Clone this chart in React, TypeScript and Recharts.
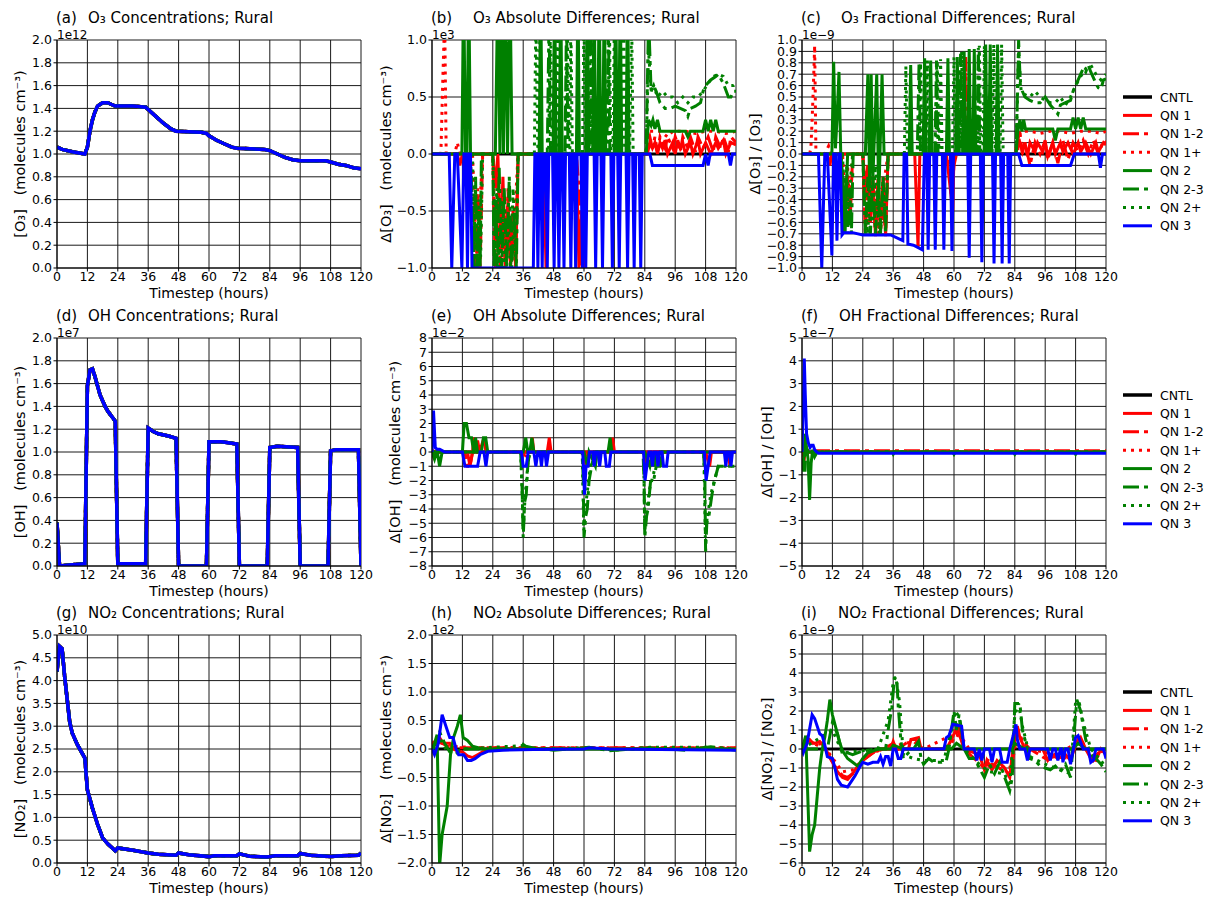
import { CartesianGrid, Line, LineChart, XAxis, YAxis } from 'recharts';

type Pt = [number, number];

const HOURS = [0, 12, 24, 36, 48, 60, 72, 84, 96, 108, 120];
const SERIES_NAMES = ['CNTL', 'QN 1', 'QN 1-2', 'QN 1+', 'QN 2', 'QN 2-3', 'QN 2+', 'QN 3'];
const SERIES_COLORS = ['#000000', '#ff0000', '#ff0000', '#ff0000', '#008000', '#008000', '#008000', '#0000ff'];
const SERIES_DASH = [undefined, undefined, '16 5 4 5', '3 5', undefined, '16 5 4 5', '3 5', undefined];

// y tick values
const CONC_TICKS_2 = [0, 0.2, 0.4, 0.6, 0.8, 1.0, 1.2, 1.4, 1.6, 1.8, 2.0];
const O3_ABS_TICKS = [-1, -0.5, 0, 0.5, 1];
const O3_FRAC_TICKS = [-1, -0.9, -0.8, -0.7, -0.6, -0.5, -0.4, -0.3, -0.2, -0.1, 0, 0.1, 0.2, 0.3, 0.4, 0.5, 0.6, 0.7, 0.8, 0.9, 1];
const OH_ABS_TICKS = [-8, -7, -6, -5, -4, -3, -2, -1, 0, 1, 2, 3, 4, 5, 6, 7, 8];
const OH_FRAC_TICKS = [-5, -4, -3, -2, -1, 0, 1, 2, 3, 4, 5];
const NO2_TICKS = [0, 0.5, 1.0, 1.5, 2.0, 2.5, 3.0, 3.5, 4.0, 4.5, 5.0];
const NO2_ABS_TICKS = [-2, -1.5, -1, -0.5, 0, 0.5, 1, 1.5, 2];
const NO2_FRAC_TICKS = [-6, -5, -4, -3, -2, -1, 0, 1, 2, 3, 4, 5, 6];

const ZERO: Pt[] = [[0, 0], [120, 0]];

// concentrations (all runs overlap)
const O3_CONC: Pt[] = [[0, 1.06], [2, 1.04], [6, 1.02], [11, 1.0], [12, 1.06], [13, 1.2], [14, 1.3], [15, 1.37], [16, 1.42], [18, 1.45], [20, 1.45], [22, 1.43], [23, 1.42], [30, 1.42], [35, 1.41], [36, 1.39], [39, 1.33], [42, 1.27], [45, 1.22], [47, 1.2], [57, 1.19], [59, 1.18], [60, 1.16], [63, 1.12], [66, 1.09], [69, 1.06], [71, 1.05], [82, 1.04], [84, 1.03], [87, 1.0], [90, 0.97], [93, 0.95], [96, 0.94], [106, 0.94], [108, 0.93], [111, 0.91], [114, 0.9], [117, 0.88], [120, 0.87]];
const OH_CONC: Pt[] = [[0, 0.38], [1, 0.0], [6, 0.01], [11, 0.02], [12, 1.58], [13, 1.72], [14, 1.73], [15, 1.66], [16, 1.58], [17, 1.5], [18, 1.45], [19, 1.4], [20, 1.36], [21, 1.33], [22, 1.3], [23, 1.27], [24, 0.02], [35, 0.02], [36, 1.21], [38, 1.18], [40, 1.16], [44, 1.14], [47, 1.12], [48, 0.0], [59, 0.0], [60, 1.09], [65, 1.09], [71, 1.07], [72, 0.0], [83, 0.0], [84, 1.04], [87, 1.05], [95, 1.04], [96, 0.0], [107, 0.0], [108, 1.01], [110, 1.02], [119, 1.02], [120, 0.0]];
const NO2_CONC: Pt[] = [[0, 4.2], [1, 4.75], [2, 4.7], [3, 4.1], [5, 3.1], [6, 2.85], [8, 2.6], [11, 2.3], [12, 1.6], [14, 1.2], [16, 0.85], [18, 0.55], [20, 0.42], [22, 0.32], [23, 0.27], [24, 0.33], [30, 0.28], [36, 0.22], [40, 0.19], [47, 0.17], [48, 0.22], [52, 0.18], [60, 0.14], [62, 0.16], [71, 0.16], [72, 0.2], [76, 0.15], [83, 0.13], [86, 0.16], [95, 0.16], [96, 0.21], [100, 0.17], [108, 0.14], [112, 0.16], [119, 0.17], [120, 0.22]];

// (b) O3 absolute differences, units of 1e3
const O3_ABS_QN1: Pt[] = [[0, 0], [10, 0], [11, -0.1], [12, 0], [24, 0], [25, -0.3], [26, 0], [27, -0.8], [28, -0.2], [29, -1], [30, -0.4], [31, -1], [32, -0.5], [33, -1], [34, 0], [44, 0], [45, -1], [46, 0], [57, 0], [58, -1], [59, -0.5], [60, -1], [61, 0], [85, 0], [86, 0.1], [87, 0.05], [88, 0.1], [89, 0], [90, 0.1], [91, 0.05], [92, 0.12], [93, 0], [95, 0.1], [96, 0], [97, 0.12], [98, 0.05], [99, 0.1], [100, 0], [102, 0.1], [103, 0], [105, 0.12], [106, 0], [108, 0.1], [110, 0], [112, 0.1], [113, 0.05], [115, 0.12], [116, 0], [118, 0.1], [120, 0.08]];
const O3_ABS_QN12: Pt[] = [[0, 0], [15, 0], [16, -0.5], [17, -1], [18, -0.3], [19, -1], [20, 0], [24, 0], [25, -1], [26, -0.2], [27, -1], [28, -0.6], [29, -1], [30, -0.3], [31, -1], [32, -0.7], [33, -1], [34, 0], [57, 0], [58, -0.3], [59, -1], [60, 0], [84, 0], [86, 0.15], [87, 0.05], [88, 0.15], [89, 0.02], [90, 0.15], [92, 0.05], [93, 0.15], [95, 0.05], [96, 0.15], [98, 0.02], [99, 0.15], [101, 0.05], [102, 0.15], [104, 0.02], [105, 0.15], [107, 0.05], [109, 0.15], [111, 0.02], [112, 0.15], [114, 0.05], [115, 0.15], [117, 0.02], [118, 0.15], [120, 0.1]];
const O3_ABS_QN1P: Pt[] = [[0, 0], [3.5, 0], [4.2, 0.6], [5, 1.2], [5.6, 0], [9, 0], [10, 0.1], [11, 0], [16, 0], [17, -0.6], [18, -1], [19, -0.4], [20, 0], [24, 0], [25, -0.8], [26, -0.3], [28, -1], [29, -0.5], [31, -0.9], [33, -0.4], [34, 0], [85, 0], [86, 0.2], [90, 0.2], [93, 0.15], [95, 0.2], [100, 0.2], [104, 0.18], [108, 0.2], [112, 0.2], [116, 0.18], [120, 0.2]];
const O3_ABS_QN2: Pt[] = [[0, 0], [11.8, 0], [12.5, 1.5], [13.2, 0], [13.8, 0], [14.5, 1.5], [15.2, 0], [25, 0], [26, 1.5], [26.8, 0], [27.4, 1.5], [28.2, 0], [29, 1.5], [29.8, 0], [30.8, 1.5], [31.6, 0], [42.3, 0], [42.9, 1.5], [43.5, 0], [47.8, 0], [48.4, 1.5], [49, 0], [50.2, 0], [50.8, 1.5], [51.4, 0], [57, 0], [57.6, 1.5], [58.2, 0], [60.7, 0], [61.3, 1.5], [61.9, 0], [63.4, 0], [64, 1.5], [64.6, 0], [65.4, 0], [66, 1.5], [66.6, 0], [67.4, 0], [68, 1.5], [68.6, 0], [71.9, 0], [72.5, 1.5], [73.1, 0], [73.7, 0], [74.3, 1.5], [74.9, 0], [76.6, 0], [77.2, 1.5], [77.8, 0], [84.5, 0], [85.5, 0.3], [86.5, 0.25], [87.2, 0.3], [88, 0.22], [89, 0.3], [90, 0.2], [100, 0.2], [101, 0.15], [102, 0.2], [107, 0.2], [108, 0.3], [109, 0.2], [110, 0.3], [111, 0.2], [112, 0.3], [113, 0.2], [120, 0.2]];
const O3_ABS_QN23: Pt[] = [[0, 0], [15, 0], [16, -0.4], [16.5, -1], [17.2, -0.2], [17.8, -1], [18.5, -0.5], [19, -1], [19.5, 0], [24, 0], [24.5, -1], [25.2, -0.4], [25.8, -1], [26.5, -0.1], [27.5, -1], [28.5, -0.3], [29.5, -1], [30.5, -0.2], [31.5, -1], [32.5, -0.5], [33.3, -1], [34, 0], [45.5, 0], [46.2, 1.2], [46.8, 0], [52.5, 0], [53.1, 1.2], [53.7, 0], [62, 0], [62.6, 1.2], [63.2, 0], [69, 0], [69.6, 1.2], [70.2, 0], [84.5, 0], [85.5, 1.2], [86.5, 0.55], [87.5, 0.6], [88.5, 0.55], [90, 0.45], [92, 0.4], [94, 0.4], [96, 0.42], [98, 0.4], [100, 0.38], [101, 0.33], [102, 0.4], [104, 0.42], [106, 0.45], [107, 0.55], [108, 0.6], [110, 0.65], [112, 0.68], [113, 0.7], [115, 0.62], [117, 0.5], [118, 0.5], [119, 0.55], [120, 0.55]];
const O3_ABS_QN2P: Pt[] = [[0, 0], [16, 0], [16.5, -0.8], [17.2, -0.3], [17.8, -1], [18.5, -0.4], [19.2, -0.9], [20, 0], [24, 0], [24.8, -0.7], [25.6, -0.3], [26.5, -1], [27.5, -0.4], [28.5, -1], [30, -0.6], [31, -1], [32, -0.3], [33, -0.9], [34, 0], [40.4, 0], [41, 1.2], [41.8, 0], [42.2, 0], [42.6, 1.2], [43.2, 0], [46, 0], [46.8, 1.2], [47.5, 0], [49, 0], [49.5, 1.2], [50.2, 0], [52.8, 0], [53.4, 1.2], [54, 0], [54.4, 0], [54.8, 1.2], [55.4, 0], [59.4, 0], [60, 1.2], [60.6, 0], [62.4, 0], [63, 1.2], [63.6, 0], [69.4, 0], [70, 1.2], [70.6, 0], [71.4, 0], [72, 1.2], [72.6, 0], [75, 0], [75.7, 1.2], [76.3, 0], [78, 0], [78.8, 1.2], [79.4, 0], [84.5, 0], [85.5, 0.9], [86.5, 0.55], [87.5, 0.6], [89, 0.5], [91, 0.55], [93, 0.5], [95, 0.5], [97, 0.45], [99, 0.5], [101, 0.45], [103, 0.5], [105, 0.5], [107, 0.55], [109, 0.62], [111, 0.68], [113, 0.7], [115, 0.68], [117, 0.6], [119, 0.6], [120, 0.62]];
const O3_ABS_QN3: Pt[] = [[0, 0], [6.8, 0], [7.8, -1], [9, 0], [10, 0], [11.8, -1], [12.6, 0], [13.4, 0], [14, -1], [14.6, 0], [15.2, 0], [15.8, -1], [17, -1], [40, -1], [40.6, 0], [41.2, 0], [41.8, -1], [42.4, 0], [42.9, 0], [43.5, -1], [44.1, 0], [44.9, 0], [45.5, -1], [46.1, 0], [47.6, 0], [48.2, -1], [48.8, 0], [49.5, 0], [50.1, -1], [50.7, 0], [51.5, 0], [52.1, -1], [52.7, 0], [54.2, 0], [54.8, -1], [55.4, 0], [56.1, 0], [56.7, -1], [57.3, 0], [58.8, 0], [59.4, -1], [60, 0], [60.1, 0], [60.7, -1], [61.3, 0], [64, 0], [64.6, -1], [65.2, 0], [66.7, 0], [67.3, -1], [67.9, 0], [70.6, 0], [71.2, -1], [71.8, 0], [73.3, 0], [73.9, -1], [74.5, 0], [76.6, 0], [77.2, -1], [77.8, 0], [79.2, 0], [79.8, -1], [80.4, 0], [81.8, 0], [82.4, -1], [83, 0], [86, 0], [87, -0.1], [107, -0.1], [108, 0], [109, -0.1], [109.8, 0], [117, 0], [117.8, -0.1], [118.6, 0], [120, 0]];

// (c) O3 fractional differences, units of 1e-9
const O3_FRAC_QN1: Pt[] = [[0, 0], [10, 0], [11, -0.1], [11.8, 0], [24, 0], [25, -0.3], [26, -0.1], [27, -0.5], [28, -0.2], [29, -0.72], [30, -0.3], [31, -0.6], [32, -0.2], [33, -0.72], [34, 0], [44.5, 0], [45.8, -0.82], [46.5, 0], [57, 0], [58.5, -0.3], [59.5, -0.5], [60, 0], [84, 0], [86, 0.1], [87, 0.02], [88, 0.1], [89, -0.02], [90, 0.1], [92, 0.02], [93, 0.1], [95, 0.02], [96, 0.1], [97, -0.02], [99, 0.1], [100, 0], [102, 0.1], [103, 0.02], [105, 0.1], [107, 0], [109, 0.1], [110, 0.02], [112, 0.1], [114, 0], [116, 0.1], [117, 0.02], [119, 0.1], [120, 0.08]];
const O3_FRAC_QN12: Pt[] = [[0, 0], [15, 0], [16, -0.3], [17, -0.6], [18, -0.2], [19, -0.6], [20, 0], [24, 0], [25, -0.7], [26, -0.1], [27, -0.6], [28, -0.3], [29, -0.7], [30, -0.2], [31, -0.7], [32, -0.4], [33, -0.7], [34, 0], [58, 0], [59, -0.4], [60, -0.1], [61, 0], [64, 0], [64.6, 0.85], [65.2, 0], [84, 0], [86, 0.2], [87, 0], [88, 0.1], [90, -0.1], [92, 0.1], [94, 0], [96, 0.12], [97, -0.05], [99, 0.1], [101, -0.08], [103, 0.12], [105, -0.05], [107, 0.1], [109, 0.02], [111, 0.12], [113, 0], [115, 0.12], [117, 0], [119, 0.12], [120, 0.1]];
const O3_FRAC_QN1P: Pt[] = [[0, 0], [3, 0], [3.5, 0.05], [4, 0.3], [4.5, 0.6], [5, 0.95], [5.5, 0], [9, 0], [10.5, 0.07], [11.5, 0], [16, 0], [17, -0.4], [18, -0.1], [19, -0.5], [20, 0], [24, 0], [26, -0.6], [28, -0.2], [30, -0.7], [32, -0.3], [34, 0], [85, 0], [86, 0.2], [90, 0.2], [94, 0.18], [98, 0.2], [102, 0.2], [106, 0.18], [110, 0.2], [114, 0.2], [118, 0.18], [120, 0.2]];
const O3_FRAC_QN2: Pt[] = [[0, 0], [11.8, 0], [12.5, 0.81], [13.2, 0.05], [13.8, 0.3], [14.6, 0.72], [15.3, 0], [16, -0.2], [17, -0.7], [18, 0], [25, 0], [26, 0.7], [26.7, -0.3], [27.3, 0.7], [28, -0.2], [29.5, 0.7], [30.3, -0.4], [31.6, 0.7], [32.4, 0], [42.3, 0], [42.9, 0.78], [43.5, 0], [47.8, 0], [48.4, 0.84], [49, 0], [50.2, 0], [50.8, 0.82], [51.4, 0], [57, 0], [57.6, 0.84], [58.2, 0], [60.7, 0], [61.3, 0.85], [61.9, 0], [63.4, 0], [64, 0.9], [64.6, 0], [65.4, 0], [66, 0.92], [66.6, 0], [67.4, 0], [68, 0.92], [68.6, 0], [71.9, 0], [72.5, 0.96], [73.1, 0], [73.7, 0], [74.3, 0.96], [74.9, 0], [76.6, 0], [77.2, 0.96], [77.8, 0], [84.5, 0], [85.2, 0.2], [86, 0.3], [86.8, 0.2], [87.5, 0.3], [88.2, 0.22], [95, 0.22], [99, 0.22], [100, 0.12], [101, 0.22], [106, 0.22], [107, 0.32], [108, 0.22], [109, 0.32], [110, 0.22], [111, 0.32], [112, 0.22], [120, 0.22]];
const O3_FRAC_QN23: Pt[] = [[0, 0], [15.5, 0], [16.5, -0.7], [17.2, -0.2], [18, -0.7], [18.8, -0.3], [19.5, -0.7], [20.2, 0], [24, 0], [25, -0.7], [26, -0.2], [27, -0.7], [28, -0.2], [29, -0.7], [30, -0.3], [31, -0.7], [32, -0.2], [33, -0.7], [34, 0], [45.5, 0], [46.2, 0.8], [46.8, 0], [52.5, 0], [53.1, 0.82], [53.7, 0], [62, 0], [62.6, 0.88], [63.2, 0], [69, 0], [69.6, 0.93], [70.2, 0], [84.5, 0], [85.5, 1.0], [86.2, 0.6], [87, 0.55], [88, 0.5], [90, 0.47], [92, 0.45], [94, 0.45], [96, 0.5], [98, 0.43], [100, 0.38], [101, 0.35], [102, 0.43], [104, 0.45], [106, 0.47], [107, 0.55], [108, 0.6], [110, 0.7], [111, 0.75], [112, 0.72], [113, 0.78], [114, 0.72], [116, 0.62], [117, 0.58], [118, 0.57], [119, 0.65], [120, 0.66]];
const O3_FRAC_QN2P: Pt[] = [[0, 0], [16, 0], [16.8, -0.5], [17.6, -0.1], [18.4, -0.6], [19.2, -0.2], [20, 0], [24, 0], [25, -0.5], [26, -0.7], [27, -0.2], [28, -0.6], [29, -0.1], [30.5, -0.7], [32, -0.3], [33, -0.6], [34, 0], [40.4, 0], [41, 0.77], [41.6, 0], [46.2, 0], [46.8, 0.8], [47.4, 0], [48.9, 0], [49.5, 0.82], [50.1, 0], [52.8, 0], [53.4, 0.82], [54, 0], [54.2, 0], [54.7, 0.83], [55.3, 0], [59.4, 0], [60, 0.85], [60.6, 0], [62.4, 0], [63, 0.9], [63.6, 0], [69.4, 0], [70, 0.95], [70.6, 0], [71.4, 0], [72, 0.95], [72.6, 0], [75, 0], [75.7, 0.96], [76.3, 0], [78.2, 0], [78.8, 0.96], [79.4, 0], [84.5, 0], [85.5, 0.9], [86.5, 0.55], [88, 0.52], [90, 0.5], [92, 0.55], [94, 0.5], [96, 0.47], [98, 0.45], [100, 0.45], [102, 0.5], [104, 0.43], [106, 0.5], [108, 0.6], [110, 0.68], [112, 0.75], [114, 0.78], [116, 0.7], [118, 0.65], [120, 0.7]];
const O3_FRAC_QN3: Pt[] = [[0, 0], [6.5, 0], [7.8, -1.0], [9, 0], [10, 0], [11.8, -0.89], [12.5, 0], [13.2, 0], [13.8, -0.76], [14.5, 0], [15.1, 0], [15.8, -0.71], [16.5, -0.69], [20, -0.69], [24, -0.71], [35, -0.71], [39.8, -0.76], [40.3, 0], [41.3, 0], [41.8, -0.79], [44, -0.8], [47.5, -0.84], [48.3, 0], [49.2, 0], [49.8, -0.84], [50.4, 0], [52, 0], [52.6, -0.84], [53.2, 0], [55.4, 0], [56, -0.84], [56.6, 0], [58.6, 0], [59.2, -0.85], [59.8, 0], [65.4, 0], [66, -0.91], [66.6, 0], [70.4, 0], [71, -0.95], [71.6, 0], [75.2, 0], [75.8, -0.96], [76.4, 0], [78.4, 0], [79, -0.96], [79.6, 0], [81.2, 0], [81.8, -0.96], [82.4, 0], [85.5, 0], [86.8, -0.1], [106, -0.1], [107.5, 0], [117, 0], [117.8, -0.12], [118.6, 0], [120, 0]];

// (e) OH absolute differences, units of 1e-2
const OH_ABS_QN1: Pt[] = [[0, 0], [14, 0], [15, -1], [16, 0], [16.5, 1], [17.2, 0], [18, 0.8], [18.8, 0], [20.5, 1], [21.3, 0], [39, 0], [39.6, 1], [40.2, 0], [45.5, 0], [46.3, 1], [47, 0], [60, 0], [61, -1], [61.8, 0], [70.5, 0], [71.3, 1], [72, 0], [84, 0], [84.8, -1], [85.5, 0], [108, 0], [109.6, -1], [110.3, 0], [117, 0], [117.6, -1], [118.2, 0], [120, 0]];
const OH_ABS_QN12: Pt[] = [[0, 0], [0.6, -0.3], [1.2, 0], [13, 0], [14, -1], [15, -1], [16, 0], [60, 0], [60.8, -0.8], [61.6, 0], [120, 0]];
const OH_ABS_QN1P: Pt[] = [[0, 0], [0.5, 0.2], [1, 0], [36, 0], [36.8, -0.5], [37.5, 0], [120, 0]];
const OH_ABS_QN2: Pt[] = [[0, 0], [1, -0.5], [2, 0.1], [3, -1], [4, 0], [12, 0], [12.7, 2], [13.6, 2], [14.6, 1], [15.6, 1], [16.5, 0], [17.2, 1], [18, 0], [19.5, 0], [20.3, 1], [21.2, 1], [22, 0], [36, 0], [37, 1], [37.8, 0], [38.6, 0], [39.4, 1], [40.2, 0], [60, 0], [61.4, -1], [62, 0], [64.5, -1], [65.2, 0], [69.5, 0], [70.3, 1], [71, 0], [84, 0], [86, -1], [87, 0], [88, -1], [88.6, 0], [90, -1], [91, 0], [120, 0]];
const OH_ABS_QN23: Pt[] = [[0, 0], [35, 0], [35.5, -2], [36, -6], [36.6, -3.5], [37.2, -3], [37.8, -1], [38.5, 0], [59.3, 0], [59.7, -2], [60, -6], [60.7, -4.5], [61.3, -4], [62, -2], [63, -1], [64, 0], [83.3, 0], [83.7, -2], [84, -6], [84.7, -4.5], [85.3, -4], [86.3, -2], [87.5, -2], [88.5, -1], [90, -1], [91, 0], [107.2, 0], [107.7, -2], [108, -7], [108.6, -4.5], [109.3, -4.5], [110.5, -3], [111.5, -2], [113, -1], [120, -1]];
const OH_ABS_QN2P: Pt[] = [[0, 0], [35, 0], [35.6, -3], [36, -5.5], [36.8, -3], [38, -0.5], [39, 0], [59.3, 0], [59.9, -5.5], [60.5, -4], [61.5, -2.5], [62.5, -1], [64, 0], [83.5, 0], [84, -5.5], [84.8, -4], [86, -2.5], [87.5, -1.5], [89, 0], [107.3, 0], [107.9, -6], [108.8, -4.5], [110, -3], [111.5, -2], [113, -1], [120, -1]];
const OH_ABS_QN3: Pt[] = [[0, 0], [0.6, 2.9], [1.3, 0.3], [2, 0.2], [3, 0.2], [4, 0.1], [5, 0], [12, 0], [13, -1], [18, -1], [19, 0], [20.5, 0], [21.3, -1], [22, 0], [35.3, 0], [36, -1], [37.2, -1], [38, 0], [40.2, 0], [41, -1], [41.8, 0], [42.6, 0], [43.2, -1], [43.8, 0], [44.6, 0], [45.2, -1], [46, 0], [59.5, 0], [60.2, -3], [60.8, -1], [61.6, -1], [62.2, 0], [63.5, 0], [64, -1], [64.6, 0], [65.6, 0], [66.2, -1], [66.8, 0], [68.2, 0], [68.8, -1], [70, -1], [70.6, 0], [83.5, 0], [84.1, -2], [84.8, -1], [85.6, 0], [86.4, 0], [87, -1], [87.6, 0], [88.6, 0], [89.2, -1], [89.8, 0], [90.8, 0], [91.4, -1], [92.6, -1], [93.2, 0], [107.5, 0], [108.2, -2], [109, -1], [109.8, 0], [115.4, 0], [116, -1], [116.6, 0], [117.4, 0], [118, -1], [118.6, 0], [120, 0]];

// (f) OH fractional differences, units of 1e-7
const OH_FRAC_QN1: Pt[] = [[0, -0.2], [0.5, -0.1], [1, 0], [120, 0]];
const OH_FRAC_QN12: Pt[] = [[0, -0.3], [0.6, -0.6], [1.2, 0], [2, 0.05], [120, 0.05]];
const OH_FRAC_QN1P: Pt[] = [[0, -0.1], [0.8, 0.1], [1.6, 0], [120, 0]];
const OH_FRAC_QN2: Pt[] = [[0, -0.3], [0.6, -0.5], [1.2, 0.8], [1.8, 0.2], [2.4, -0.3], [3, -2.1], [3.6, -0.5], [4.2, 0.1], [5, -0.2], [6, 0], [120, 0]];
const OH_FRAC_QN23: Pt[] = [[0, -0.6], [0.5, -0.8], [1.2, -0.8], [1.6, 0.2], [2.5, 0], [35.5, 0], [36, -0.1], [36.5, 0], [59.5, 0], [60, -0.1], [60.5, 0], [83.5, 0], [84, -0.1], [84.5, 0], [107.5, 0], [108, -0.1], [108.5, 0], [120, 0]];
const OH_FRAC_QN2P: Pt[] = [[0, -0.5], [0.7, -0.7], [1.4, 0.3], [2.2, 0], [120, 0]];
const OH_FRAC_QN3: Pt[] = [[0, 0], [0.5, 2], [0.9, 4.1], [1.3, 2.5], [1.8, 0.8], [2.5, 0.4], [3.2, 0.2], [3.8, 0.3], [4.4, 0.3], [5, 0.1], [5.8, 0], [6.5, -0.05], [120, -0.05]];

// (h) NO2 absolute differences, units of 1e2
const NO2_ABS_QN1: Pt[] = [[0, 0.05], [1.5, 0.1], [3, 0.2], [4.5, 0.1], [7, 0.1], [8.5, 0.0], [10, -0.03], [12, -0.05], [14, -0.12], [16, -0.15], [18, -0.1], [20, -0.05], [24, 0], [36, 0.01], [60, 0.01], [84, 0.01], [120, 0]];
const NO2_ABS_QN12: Pt[] = [[0, 0.1], [2, 0.15], [4, 0.1], [6, 0.05], [10, 0.02], [20, 0.02], [120, 0.02]];
const NO2_ABS_QN1P: Pt[] = [[0, 0.08], [3, 0.12], [6, 0.05], [20, 0.02], [120, 0.02]];
const NO2_ABS_QN2: Pt[] = [[0, 0], [1, 0.1], [2, 0.25], [3, -2.05], [4, -1.5], [6, -1.0], [7.3, -0.1], [8.5, 0.2], [10, 0.4], [11.2, 0.6], [12.3, 0.2], [14, 0.15], [16, 0.05], [20, 0], [120, 0]];
const NO2_ABS_QN23: Pt[] = [[0, -0.05], [3, 0.3], [5, 0.1], [7, -0.05], [9, -0.1], [12, 0], [35, 0], [36, 0.08], [37, 0.05], [40, 0.02], [48, -0.02], [60, 0.02], [62, 0.03], [70, -0.03], [86, 0.02], [100, -0.02], [110, 0.04], [120, -0.02]];
const NO2_ABS_QN2P: Pt[] = [[0, 0], [3, 0.2], [6, -0.05], [9, -0.05], [12, 0], [36, 0.06], [40, 0], [62, 0.02], [72, -0.02], [86, 0.03], [110, 0.03], [120, 0]];
const NO2_ABS_QN3: Pt[] = [[0, 0], [1, -0.1], [2.5, 0.1], [4, 0.6], [5.5, 0.4], [7, 0.2], [8.3, 0.2], [9.5, 0.0], [10.5, -0.1], [12.5, -0.1], [14, -0.2], [15.5, -0.2], [17, -0.17], [19, -0.1], [22, -0.04], [28, -0.02], [40, -0.01], [60, 0.0], [62, 0.02], [70, 0], [90, -0.01], [120, -0.02]];

// (i) NO2 fractional differences, units of 1e-9
const NO2_FRAC_QN1: Pt[] = [[0, 0.1], [2, 0.6], [3, 0.4], [5, 0.3], [7, 0.4], [9, 0.1], [10, -0.2], [12, -0.7], [14, -1.2], [16, -1.5], [18, -1.6], [20, -1.3], [22, -0.9], [24, -0.6], [26, -0.4], [28, -0.2], [30, 0], [35, 0], [36, 0.4], [37, 0], [42, 0], [43, 0.5], [46, 0.6], [47, 0], [57, 0], [59, 0.5], [61, 1.1], [62, 0.8], [64, 0], [70, -0.3], [72, -1.1], [73, -0.6], [75, -1.1], [77, -0.6], [80, -1.0], [82, -1.5], [83, -0.3], [85, 1.2], [86, 0.6], [88, 0], [95, 0], [97, -0.6], [99, -0.3], [101, -0.5], [104, -0.3], [106, -0.6], [108, 0.2], [110, 0.6], [112, 0], [114, -0.5], [116, -0.6], [118, 0], [120, -0.3]];
const NO2_FRAC_QN12: Pt[] = [[0, 0.2], [3, 0.5], [5, 0.2], [8, 0.3], [10, -0.2], [13, -0.9], [16, -1.4], [18, -1.5], [21, -1.2], [24, -0.6], [28, -0.2], [32, 0], [36, 0.3], [38, 0], [43, 0.5], [45, 0.5], [47, 0], [58, 0], [60, 0.6], [62, 1.1], [64, 0], [72, -1.0], [75, -0.8], [82, -1.3], [84, 0], [85, 1.1], [87, 0.4], [90, 0], [96, -0.5], [100, -0.4], [106, -0.5], [109, 0.5], [112, 0], [115, -0.6], [118, 0], [120, -0.2]];
const NO2_FRAC_QN1P: Pt[] = [[0, 0.1], [3, 0.4], [6, 0.2], [10, -0.1], [16, -1.2], [20, -1.1], [26, -0.3], [32, 0], [44, 0.4], [48, 0], [60, 0.8], [63, 0.6], [66, 0], [76, -0.8], [82, -1.0], [85, 0.8], [90, 0], [100, -0.3], [110, 0.4], [116, -0.3], [120, 0]];
const NO2_FRAC_QN2: Pt[] = [[0, 0], [1.5, 0.7], [3, -5.4], [4, -4.5], [5, -4], [6, -2.5], [7, -1], [8, 0], [9, 0.6], [10, 1.5], [11, 2.6], [12, 1.8], [13, 1.3], [14, 0.8], [15, 0.3], [16, -0.1], [18, -0.5], [20, -0.7], [22, -0.9], [24, -0.5], [26, -0.2], [30, 0], [35, 0], [36, 0.2], [40, 0], [59, 0], [61, 0.3], [64, 0], [83, 0], [84, 0.3], [88, 0], [107, 0], [109, 0.3], [112, 0], [120, 0]];
const NO2_FRAC_QN23: Pt[] = [[0, 0], [10, 0], [12, 1.4], [14, 0.8], [16, -0.3], [18, -0.2], [20, -0.3], [24, -0.1], [30, 0], [33, 0], [34, 1], [35.5, 2.2], [36.5, 3.8], [37.5, 3.5], [38, 2.2], [39, 0.5], [40, -0.5], [42, -0.2], [44, 0], [46, 0.4], [47, -0.5], [48, -0.8], [50, -0.5], [52, -0.7], [55, -0.7], [57, -0.6], [58, 0], [59.5, 1.5], [60, 2.0], [61, 1.0], [62, 1.8], [63, 1.0], [64, 0], [66, -0.5], [68, -0.5], [70, -1.0], [72, -1.5], [74, -0.8], [76, -1.3], [78, -0.7], [80, -1.5], [82, -2.2], [83, -1.5], [84, 2.4], [86, 2.4], [87, 1.0], [88, 0.5], [90, -0.5], [92, -0.6], [94, -0.9], [96, -1.0], [98, -1.1], [100, -0.9], [102, -1.2], [104, -0.8], [106, -1.5], [107, 0.2], [108.5, 2.6], [110, 2.0], [111, 1.2], [112, 0.5], [114, -0.3], [116, -0.5], [118, -0.8], [120, -1.2]];
const NO2_FRAC_QN2P: Pt[] = [[0, 0], [12, 1], [16, -0.2], [30, 0], [34, 1.5], [36, 3.5], [37, 3.8], [38.5, 2.5], [40, -0.3], [44, -0.5], [48, -0.6], [56, -0.6], [59, 1], [60.5, 2], [62, 1.7], [64, 0], [70, -0.8], [74, -1.2], [80, -1.3], [82, -2.0], [84, 1.8], [85.5, 2.4], [87, 1.2], [90, -0.4], [96, -0.8], [100, -1.0], [106, -1.3], [108, 2.5], [109.5, 2.4], [111, 1.4], [114, 0], [118, -0.6], [120, -1.0]];
const NO2_FRAC_QN3: Pt[] = [[0, 0], [0.5, -0.2], [2, 0.3], [4, 1.8], [5, 1.6], [7, 0.8], [8, 0.7], [9, 0.2], [10, -0.4], [12, -0.5], [13, -1.0], [14, -1.6], [15.5, -1.9], [18, -2.0], [20, -1.6], [21, -1.4], [23, -0.9], [24, -0.7], [26, -0.8], [28, -0.7], [30, -0.7], [31, -0.4], [32, -0.8], [33, -0.4], [34, -0.4], [35, -0.9], [36, 0], [37, 0], [38, -0.5], [39, -0.5], [40, 0], [56, 0], [57, 0.6], [58, 0.7], [59.5, 1.3], [63, 1.2], [64, 0], [68, 0], [69, -0.6], [70, 0], [71, -0.6], [72, 0], [74, 0], [75, -0.7], [76, 0], [78, 0], [79, -0.7], [81, -0.7], [82, 0], [84.5, 1.3], [85, 0.5], [86, 0], [88, 0], [89, -0.6], [90, 0], [97, 0], [98, -0.6], [99, 0], [100, 0], [101, -0.6], [102, 0], [102.5, 0], [103, -0.7], [104, 0], [105, 0], [106, -0.8], [108, 0.6], [109, 0.7], [111, 0], [113, 0], [114, -0.7], [115, -0.6], [116, 0], [119, 0], [120, -0.5]];

type PanelCfg = {
  tag: string;
  title: string;
  titleX: number;
  yLabel: string;
  yLabelX: number;
  exponent: string;
  ticks: number[];
  decimals: number;
  left: number;
  top: number;
  lineWidth: number;
  series: Pt[][];
};

const COL_LEFT = [57, 432, 802];
const ROW_TOP = [40, 338, 635];
const PLOT_W = 304;
const PLOT_H = 228;
const AXIS_W = 55;
const PAD_TOP = 12;
const PAD_RIGHT = 20;
const XAXIS_H = 25;

const same = (pts: Pt[]): Pt[][] => SERIES_NAMES.map(() => pts);

const PANELS: PanelCfg[] = [
  { tag: '(a)', title: 'O₃ Concentrations; Rural', titleX: 88, yLabel: '[O₃]   (molecules cm⁻³)', yLabelX: 25, exponent: '1e12', ticks: CONC_TICKS_2, decimals: 1, left: COL_LEFT[0], top: ROW_TOP[0], lineWidth: 3.5, series: same(O3_CONC) },
  { tag: '(b)', title: 'O₃ Absolute Differences; Rural', titleX: 473, yLabel: 'Δ[O₃]   (molecules cm⁻³)', yLabelX: 391, exponent: '1e3', ticks: O3_ABS_TICKS, decimals: 1, left: COL_LEFT[1], top: ROW_TOP[0], lineWidth: 3, series: [ZERO, O3_ABS_QN1, O3_ABS_QN12, O3_ABS_QN1P, O3_ABS_QN2, O3_ABS_QN23, O3_ABS_QN2P, O3_ABS_QN3] },
  { tag: '(c)', title: 'O₃ Fractional Differences; Rural', titleX: 841, yLabel: 'Δ[O₃] / [O₃]', yLabelX: 760, exponent: '1e\u22129', ticks: O3_FRAC_TICKS, decimals: 1, left: COL_LEFT[2], top: ROW_TOP[0], lineWidth: 3, series: [ZERO, O3_FRAC_QN1, O3_FRAC_QN12, O3_FRAC_QN1P, O3_FRAC_QN2, O3_FRAC_QN23, O3_FRAC_QN2P, O3_FRAC_QN3] },
  { tag: '(d)', title: 'OH Concentrations; Rural', titleX: 88, yLabel: '[OH]   (molecules cm⁻³)', yLabelX: 25, exponent: '1e7', ticks: CONC_TICKS_2, decimals: 1, left: COL_LEFT[0], top: ROW_TOP[1], lineWidth: 3.5, series: same(OH_CONC) },
  { tag: '(e)', title: 'OH Absolute Differences; Rural', titleX: 473, yLabel: 'Δ[OH]   (molecules cm⁻³)', yLabelX: 400, exponent: '1e\u22122', ticks: OH_ABS_TICKS, decimals: 0, left: COL_LEFT[1], top: ROW_TOP[1], lineWidth: 3, series: [ZERO, OH_ABS_QN1, OH_ABS_QN12, OH_ABS_QN1P, OH_ABS_QN2, OH_ABS_QN23, OH_ABS_QN2P, OH_ABS_QN3] },
  { tag: '(f)', title: 'OH Fractional Differences; Rural', titleX: 839, yLabel: 'Δ[OH] / [OH]', yLabelX: 772, exponent: '1e\u22127', ticks: OH_FRAC_TICKS, decimals: 0, left: COL_LEFT[2], top: ROW_TOP[1], lineWidth: 3, series: [ZERO, OH_FRAC_QN1, OH_FRAC_QN12, OH_FRAC_QN1P, OH_FRAC_QN2, OH_FRAC_QN23, OH_FRAC_QN2P, OH_FRAC_QN3] },
  { tag: '(g)', title: 'NO₂ Concentrations; Rural', titleX: 88, yLabel: '[NO₂]   (molecules cm⁻³)', yLabelX: 25, exponent: '1e10', ticks: NO2_TICKS, decimals: 1, left: COL_LEFT[0], top: ROW_TOP[2], lineWidth: 3.5, series: same(NO2_CONC) },
  { tag: '(h)', title: 'NO₂ Absolute Differences; Rural', titleX: 473, yLabel: 'Δ[NO₂]   (molecules cm⁻³)', yLabelX: 391, exponent: '1e2', ticks: NO2_ABS_TICKS, decimals: 1, left: COL_LEFT[1], top: ROW_TOP[2], lineWidth: 3, series: [ZERO, NO2_ABS_QN1, NO2_ABS_QN12, NO2_ABS_QN1P, NO2_ABS_QN2, NO2_ABS_QN23, NO2_ABS_QN2P, NO2_ABS_QN3] },
  { tag: '(i)', title: 'NO₂ Fractional Differences; Rural', titleX: 838, yLabel: 'Δ[NO₂] / [NO₂]', yLabelX: 772, exponent: '1e\u22129', ticks: NO2_FRAC_TICKS, decimals: 0, left: COL_LEFT[2], top: ROW_TOP[2], lineWidth: 3, series: [ZERO, NO2_FRAC_QN1, NO2_FRAC_QN12, NO2_FRAC_QN1P, NO2_FRAC_QN2, NO2_FRAC_QN23, NO2_FRAC_QN2P, NO2_FRAC_QN3] },
];

const FONT = '"DejaVu Sans", sans-serif';
const tickStyle = { fontSize: 12.5, fill: '#000', fontFamily: FONT };

function fmt(v: number, d: number) {
  const s = Math.abs(v).toFixed(d);
  return (v < -1e-9 ? '\u2212' : '') + s;
}

const rows = (pts: Pt[]) => pts.map(([t, v]) => ({ t, v }));

function Panel({ cfg }: { cfg: PanelCfg }) {
  const lo = cfg.ticks[0];
  const hi = cfg.ticks[cfg.ticks.length - 1];
  return (
    <div style={{ position: 'absolute', left: cfg.left - AXIS_W, top: cfg.top - PAD_TOP }}>
      <LineChart width={PLOT_W + AXIS_W + PAD_RIGHT} height={PLOT_H + PAD_TOP + XAXIS_H} margin={{ top: PAD_TOP, right: PAD_RIGHT, left: 0, bottom: 0 }}>
        <CartesianGrid stroke="#1a1a1a" strokeWidth={1} />
        <XAxis dataKey="t" type="number" domain={[0, 120]} ticks={HOURS} interval={0} allowDataOverflow height={XAXIS_H}
          tick={tickStyle} tickSize={3.5} tickMargin={1} stroke="#000" />
        <YAxis type="number" domain={[lo, hi]} ticks={cfg.ticks} interval={0} allowDataOverflow width={AXIS_W}
          tick={tickStyle} tickSize={3.5} tickMargin={1.5} stroke="#000" tickFormatter={(v: number) => fmt(v, cfg.decimals)} />
        {cfg.series.map((pts, i) => (
          <Line key={SERIES_NAMES[i]} name={SERIES_NAMES[i]} data={rows(pts)} dataKey="v" type="linear" dot={false} activeDot={false}
            stroke={SERIES_COLORS[i]} strokeWidth={cfg.lineWidth} strokeDasharray={SERIES_DASH[i]} isAnimationActive={false} />
        ))}
      </LineChart>
    </div>
  );
}

function Labels() {
  return (
    <svg width={1214} height={899} style={{ position: 'absolute', left: 0, top: 0, pointerEvents: 'none', fontFamily: FONT }}>
      {PANELS.map((p) => {
        const cy = p.top + PLOT_H / 2;
        return (
          <g key={p.tag}>
            <text x={p.left - 1} y={p.top - 17} fontSize={15}>{p.tag}</text>
            <text x={p.titleX} y={p.top - 17} fontSize={15}>{p.title}</text>
            <text x={p.left} y={p.top - 1} fontSize={12}>{p.exponent}</text>
            <text x={p.left + PLOT_W / 2} y={p.top + PLOT_H + 30} fontSize={14} textAnchor="middle">Timestep (hours)</text>
            <text transform={`translate(${p.yLabelX},${cy}) rotate(-90)`} fontSize={14.5} textAnchor="middle" style={{ whiteSpace: 'pre' }}>{p.yLabel}</text>
          </g>
        );
      })}
      {ROW_TOP.map((top) => (
        <g key={top}>
          {SERIES_NAMES.map((name, i) => {
            const y = top + 57 + i * 18.4;
            return (
              <g key={name}>
                <line x1={1123} x2={1152} y1={y} y2={y} stroke={SERIES_COLORS[i]} strokeWidth={i === 0 ? 3.5 : 3} strokeDasharray={SERIES_DASH[i]} />
                <text x={1160} y={y + 4.5} fontSize={12.5}>{name}</text>
              </g>
            );
          })}
        </g>
      ))}
    </svg>
  );
}

export default function App() {
  return (
    <div style={{ position: 'absolute', left: 0, top: 0, width: 1214, height: 899, background: '#fff', fontFamily: FONT }}>
      {PANELS.map((p) => (
        <Panel key={p.tag} cfg={p} />
      ))}
      <Labels />
    </div>
  );
}
